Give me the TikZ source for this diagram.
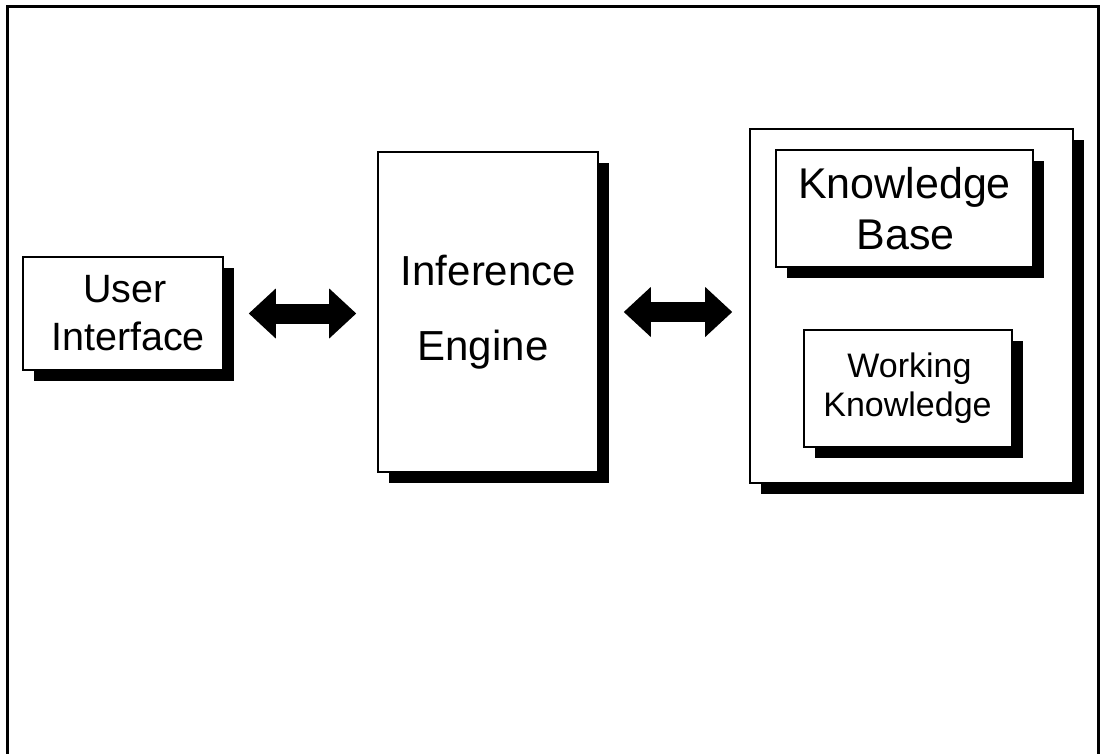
\documentclass[tikz,border=0pt]{standalone}
\usepackage{fontspec}
\setmainfont{Liberation Sans}
\usetikzlibrary{arrows.meta,shadows}
\begin{document}
\begin{tikzpicture}[x=1pt,y=-1pt,
  box/.style={draw, line width=1.6pt, fill=white, inner sep=0pt,
    drop shadow={fill=black, opacity=1, shadow xshift=11pt, shadow yshift=-11pt}},
  lbl/.style={anchor=base, inner sep=0pt},
  dbl/.style={line width=20pt,
    {Triangle[length=27pt,width=50pt,line width=0pt]}-{Triangle[length=27pt,width=50pt,line width=0pt]}}]
\useasboundingbox (0,0) rectangle (1100,754);
\draw[line width=3pt] (7,754) -- (7,7) -- (1098,7) -- (1098,754);

\node[box, minimum width=200pt, minimum height=113pt] (ui) at (123,313.5) {};
\node[box, minimum width=220pt, minimum height=320pt] (ie) at (488,312) {};
\node[box, minimum width=323pt, minimum height=354pt] (kb) at (911.5,306) {};
\node[box, minimum width=257pt, minimum height=117pt] (kbase) at (904.5,208.5) {};
\node[box, minimum width=208pt, minimum height=117pt] (wk) at (908,388.5) {};

\node[lbl, font=\fontsize{39.5}{48}\selectfont] (ui1) at (125,302) {User};
\node[lbl, font=\fontsize{39.5}{48}\selectfont] (ui2) at (128,350) {Interface};
\node[lbl, font=\fontsize{42}{50}\selectfont] (ie1) at (488.5,285) {Inference};
\node[lbl, font=\fontsize{42}{50}\selectfont] (ie2) at (483,360) {Engine};
\node[lbl, font=\fontsize{43}{50}\selectfont] (kb1) at (904.5,199) {Knowledge};
\node[lbl, font=\fontsize{43}{50}\selectfont] (kb2) at (905.5,249) {Base};
\node[lbl, font=\fontsize{34}{40}\selectfont] (wk1) at (909.5,377) {Working};
\node[lbl, font=\fontsize{34}{40}\selectfont] (wk2) at (907.5,416) {Knowledge};

\draw[dbl, shorten <=25pt, shorten >=21pt] (ui.east) -- (ui.east -| ie.west);
\draw[dbl, shorten <=25pt, shorten >=17pt] (ie.east) -- (ie.east -| kb.west);
\end{tikzpicture}
\end{document}
